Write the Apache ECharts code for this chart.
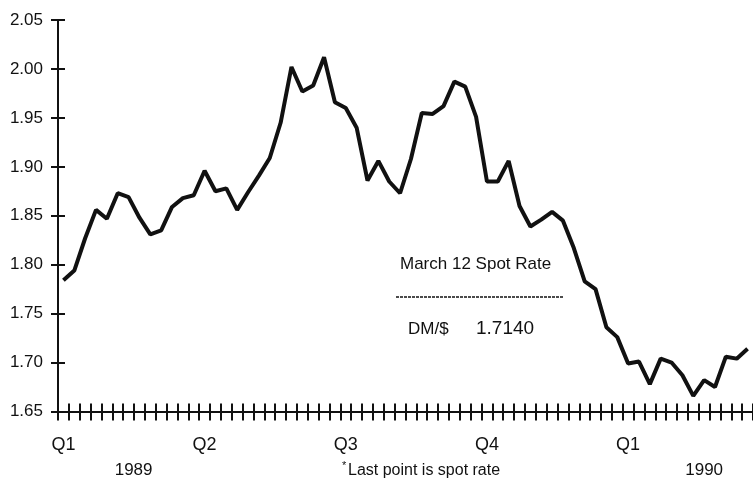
<!DOCTYPE html>
<html>
<head>
<meta charset="utf-8">
<script src="https://cdn.jsdelivr.net/npm/echarts@6/dist/echarts.min.js"></script>
<style>
  html, body { margin: 0; padding: 0; background: #fff; }
  #chart { width: 753px; height: 485px; }
</style>
</head>
<body>
<div id="chart"></div>
<script>
// weekly DM/$ rate, Q1 1989 .. March 12 1990 (last point is the spot rate)
var rates = [
  1.784, 1.794, 1.827, 1.856, 1.847, 1.873, 1.869, 1.848, 1.831, 1.835,
  1.859, 1.868, 1.871, 1.896, 1.875, 1.878, 1.856, 1.874, 1.891, 1.909,
  1.945, 2.002, 1.977, 1.983, 2.012, 1.966, 1.960, 1.940, 1.886, 1.906,
  1.885, 1.873, 1.908, 1.955, 1.954, 1.962, 1.987, 1.982, 1.951, 1.885,
  1.885, 1.906, 1.860, 1.839, 1.846, 1.854, 1.845, 1.817, 1.783, 1.775,
  1.736, 1.726, 1.699, 1.701, 1.678, 1.704, 1.700, 1.687, 1.666, 1.682,
  1.675, 1.706, 1.704, 1.714
];
var quarterLabels = ["Q1", "Q2", "Q3", "Q4", "Q1"];
var weeksPerQuarter = 13;
var yearLabels = ["1989", "1990"];
var yearWeeks = [6, 59];
var yMin = 1.65;
var yMax = 2.05;
var yStep = 0.05;

var spotTitle = "March 12 Spot Rate";
var spotPair = "DM/$";
var spotValue = "1.7140";
var footnote = "Last point is spot rate";

var weeks = rates.map(function (v, i) {
  return "W" + (i + 1);
});

var FONT = "'Liberation Sans', Arial, sans-serif";
var INK = "#111";

var chart = echarts.init(document.getElementById("chart"));
chart.setOption({
  animation: false,
  backgroundColor: "#fff",
  grid: { left: 58, right: 0, top: 20, bottom: 73.5 },
  xAxis: [
    {
      type: "category",
      position: "bottom",
      data: weeks,
      boundaryGap: true,
      axisLine: { show: true, lineStyle: { color: INK, width: 2 } },
      axisTick: { show: false },
      axisLabel: {
        interval: function (i) {
          return i % weeksPerQuarter === 0;
        },
        formatter: function (v, i) {
          return quarterLabels[Math.round(i / weeksPerQuarter)];
        },
        margin: 25,
        fontSize: 18,
        fontFamily: FONT,
        color: INK,
      },
    },
    {
      // shifted up 8px so its ticks cross the axis line; carries the years
      type: "category",
      position: "bottom",
      offset: -8,
      data: weeks,
      boundaryGap: true,
      axisLine: { show: true, lineStyle: { color: INK, width: 2, opacity: 0 } },
      axisTick: { show: true, interval: 0, length: 17, lineStyle: { color: INK, width: 2 } },
      axisLabel: {
        interval: function (i) {
          return yearWeeks.indexOf(i) >= 0;
        },
        formatter: function (v, i) {
          var k = yearWeeks.indexOf(i);
          return k === 0 ? "{a|" + yearLabels[k] + "}" : "{b|" + yearLabels[k] + "}";
        },
        rich: {
          a: { fontSize: 17, fontFamily: FONT, color: INK, padding: [0, 0, 0, 10] },
          b: { fontSize: 17, fontFamily: FONT, color: INK },
        },
        margin: 58,
      },
    },
  ],
  yAxis: [
    {
      type: "value",
      position: "left",
      min: yMin,
      max: yMax,
      interval: yStep,
      axisLine: { show: true, lineStyle: { color: INK, width: 2 } },
      axisTick: { show: false },
      splitLine: { show: false },
      axisLabel: {
        formatter: function (v) {
          return v.toFixed(2);
        },
        margin: 15,
        fontSize: 17,
        fontFamily: FONT,
        color: INK,
      },
    },
    {
      // shifted right 7px so its ticks cross the axis line
      type: "value",
      position: "left",
      offset: -7,
      min: yMin,
      max: yMax,
      interval: yStep,
      axisLine: { show: true, lineStyle: { color: INK, width: 2, opacity: 0 } },
      axisTick: { show: true, length: 14, lineStyle: { color: INK, width: 2 } },
      splitLine: { show: false },
      axisLabel: { show: false },
    },
  ],
  series: [
    {
      type: "line",
      data: rates,
      xAxisIndex: 0,
      yAxisIndex: 0,
      showSymbol: false,
      lineStyle: { color: INK, width: 4 },
    },
  ],
  graphic: [
    {
      type: "text",
      x: 400,
      y: 264,
      style: { text: spotTitle, font: "17px " + FONT, fill: INK, verticalAlign: "middle" },
    },
    {
      type: "line",
      shape: { x1: 396, y1: 297, x2: 563, y2: 297 },
      style: { stroke: INK, lineWidth: 1.5, lineDash: [3, 1] },
    },
    {
      type: "text",
      x: 408,
      y: 329,
      style: { text: spotPair, font: "17px " + FONT, fill: INK, verticalAlign: "middle" },
    },
    {
      type: "text",
      x: 476,
      y: 329,
      style: { text: spotValue, font: "19px " + FONT, fill: INK, verticalAlign: "middle" },
    },
    {
      type: "text",
      x: 342,
      y: 466,
      style: { text: "*", font: "11px " + FONT, fill: INK, verticalAlign: "middle" },
    },
    {
      type: "text",
      x: 348,
      y: 471,
      style: { text: footnote, font: "16px " + FONT, fill: INK, verticalAlign: "middle" },
    },
  ],
});
</script>
</body>
</html>
